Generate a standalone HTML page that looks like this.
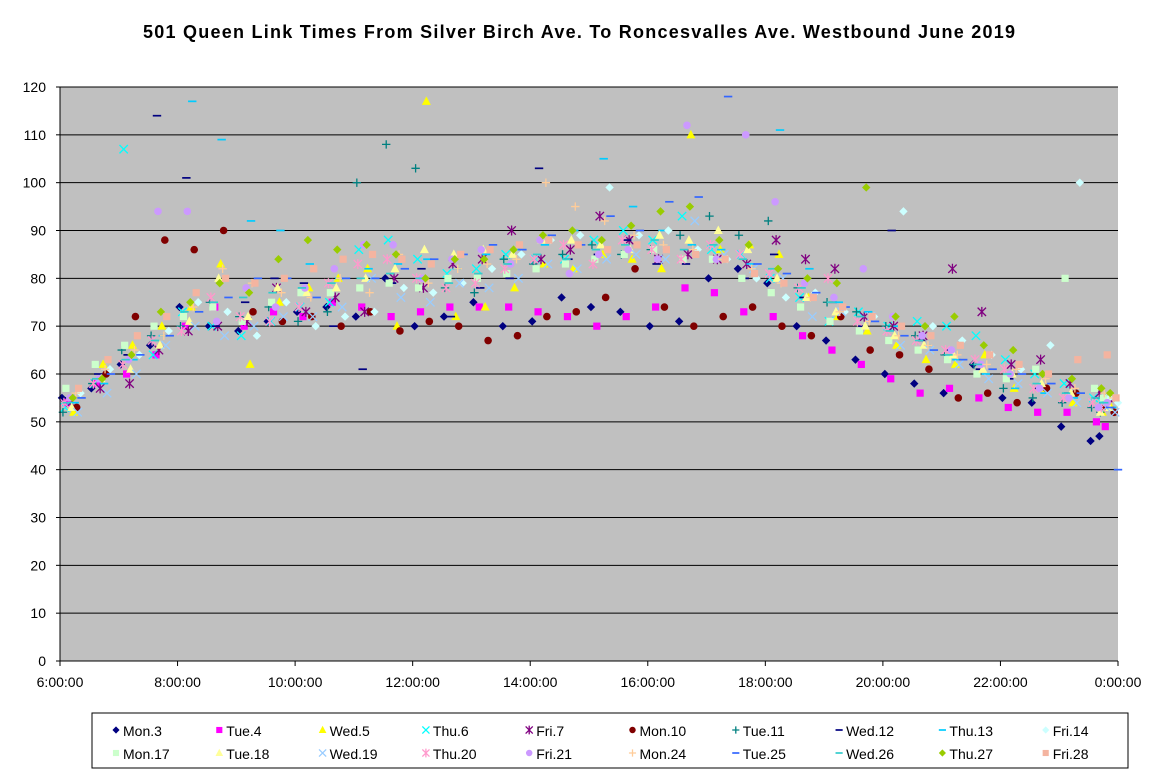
<!DOCTYPE html>
<html><head><meta charset="utf-8"><style>
body{margin:0;background:#fff;}
svg text{font-family:"Liberation Sans",Arial,sans-serif;}
</style></head><body>
<svg id="chart" width="1149" height="778" xmlns="http://www.w3.org/2000/svg">
<text x="579" y="38" text-anchor="middle" font-size="18" font-weight="bold" textLength="872" lengthAdjust="spacing">501 Queen Link Times From Silver Birch Ave. To Roncesvalles Ave. Westbound June 2019</text>
<rect x="60" y="87" width="1058" height="574" fill="#C0C0C0"/>
<g id="grid"></g><g id="marks"></g><g id="axes"></g>
<rect x="92" y="713" width="1036" height="55" fill="#fff" stroke="#000" stroke-width="1"/>
<g id="legend"></g>
</svg>
<script>
const seriesNames=["Mon.3","Tue.4","Wed.5","Thu.6","Fri.7","Mon.10","Tue.11","Wed.12","Thu.13","Fri.14","Mon.17","Tue.18","Wed.19","Thu.20","Fri.21","Mon.24","Tue.25","Wed.26","Thu.27","Fri.28"];
const slotHours=[6,6.5,7,7.5,8,8.5,9,9.5,10,10.5,11,11.5,12,12.5,13,13.5,14,14.5,15,15.5,16,16.5,17,17.5,18,18.5,19,19.5,20,20.5,21,21.5,22,22.5,23,23.5,24];
const minuteOffsets=[2,8,14,5,11,17,3,9,15,21,6,12,18,4,10,16,22,7,13,19];
const yTicks=[0,10,20,30,40,50,60,70,80,90,100,110,120];
const xTickLabels=["6:00:00","8:00:00","10:00:00","12:00:00","14:00:00","16:00:00","18:00:00","20:00:00","22:00:00","0:00:00"];
const xTickHours=[6,8,10,12,14,16,18,20,22,24];
const sMon3=[55,57,62,66,74,70,69,71,73,74,72,80,70,72,75,70,71,76,74,73,70,71,80,82,79,70,67,63,60,58,56,62,55,54,49,46,47];
const sTue4=[54,58,60,64,70,74,70,73,72,75,74,72,73,74,74,74,73,72,70,72,74,78,77,73,72,68,65,62,59,56,57,55,53,52,52,50,49];
const sWed5=[52,62,66,70,74,83,62,75,78,80,82,70,117,72,74,78,83,82,85,84,82,110,86,87,85,76,72,69,66,63,62,64,57,57,54,52,53];
const sThu6=[53,58,107,64,73,70,68,71,74,75,86,88,84,81,82,85,84,84,88,90,88,93,86,85,80,76,71,73,70,71,70,68,63,60,58,55,54];
const sFri7=[54,57,58,65,69,70,71,78,73,76,73,80,78,83,84,90,84,86,93,88,84,85,84,83,88,84,82,72,70,68,82,73,62,63,58,56,55];
const sMon10=[53,60,72,88,86,90,73,71,72,70,73,69,71,70,67,68,72,73,76,82,74,70,72,74,70,68,72,65,64,61,55,56,54,57,56,53,52];
const sTue11=[52,58,65,68,70,75,72,74,71,73,100,108,103,78,77,84,83,85,87,85,86,89,93,89,92,78,75,73,70,68,64,62,57,55,54,53,52];
const sWed12=[55,60,64,114,101,70,75,80,79,70,61,79,82,72,78,80,103,84,85,88,83,83,84,80,85,76,75,70,90,67,65,61,59,57,56,55,54];
const sThu13=[54,58,63,68,117,109,92,90,83,80,82,83,84,82,85,86,87,90,105,95,90,87,86,83,111,82,75,73,70,66,63,60,57,56,55,54,53];
const sFri14=[56,61,64,69,75,73,68,75,70,72,73,78,77,79,82,85,88,89,99,89,90,86,84,80,76,77,73,72,94,70,67,64,61,66,100,55,54];
const sMon17=[57,62,66,70,72,74,71,75,77,77,78,79,78,80,80,81,82,83,84,85,86,84,84,80,77,74,71,69,67,65,63,60,59,61,80,57,55];
const sTue18=[53,59,61,66,71,80,72,78,77,78,80,82,86,85,86,85,88,88,87,86,89,88,90,86,80,76,73,70,68,66,64,61,60,58,56,52,53];
const sWed19=[52,56,60,66,70,68,70,72,72,74,80,76,75,79,78,80,83,82,84,85,84,92,85,82,80,72,73,72,66,65,62,59,58,56,54,53,52];
const sThu20=[54,58,62,67,69,76,72,71,74,79,83,84,80,78,79,82,84,87,83,88,86,84,87,85,81,78,80,71,69,67,65,63,61,57,55,54,53];
const sFri21=[55,59,63,94,94,71,78,74,78,82,87,87,80,84,86,83,88,81,85,86,84,112,84,110,96,79,76,82,72,68,65,62,60,57,55,53,54];
const sMon24=[56,61,65,68,74,82,79,77,76,80,77,85,79,82,83,84,100,95,92,89,87,86,84,82,79,76,73,71,68,66,64,62,61,59,57,56,55];
const sTue25=[55,60,64,68,73,76,80,80,76,80,80,82,84,85,87,86,89,87,93,90,96,97,118,83,81,77,74,71,68,65,63,61,60,58,56,53,40];
const sWed26=[54,59,63,67,73,75,76,77,78,79,80,81,80,79,81,83,85,84,86,87,88,86,87,84,82,78,75,72,69,67,64,62,60,58,56,55,54];
const sThu27=[55,59,64,73,75,79,77,84,88,86,87,85,80,84,84,86,89,90,88,91,94,95,88,87,82,80,79,99,72,70,72,66,65,60,59,57,56];
const sFri28=[57,63,68,72,77,80,79,80,82,84,85,84,83,85,86,87,88,87,86,87,86,85,84,81,79,76,74,72,70,68,66,64,62,60,63,64,55];
const seriesValues=[sMon3,sTue4,sWed5,sThu6,sFri7,sMon10,sTue11,sWed12,sThu13,sFri14,sMon17,sTue18,sWed19,sThu20,sFri21,sMon24,sTue25,sWed26,sThu27,sFri28];
const styles=[["diamond","#000080"],["square","#FF00FF"],["triangle","#FFFF00"],["x","#00FFFF"],["star","#800080"],["circle","#800000"],["plus","#008080"],["dash","#000080"],["dash","#00CCFF"],["diamond","#CCFFFF"],["square","#CCFFCC"],["triangle","#FFFF99"],["x","#99CCFF"],["star","#FF99CC"],["circle","#CC99FF"],["plus","#FFCC99"],["dash","#3366FF"],["dash","#33CCCC"],["diamond","#99CC00"],["square","#F4B4A0"]];
const NS="http://www.w3.org/2000/svg";
const X0=60,X1=1118,Y0=661,Y1=87;
function xScale(h){return X0+(h-6)/18*(X1-X0);}
function yScale(v){return Y0-v/120*(Y0-Y1);}
function mk(tag,attrs,parent){const e=document.createElementNS(NS,tag);for(const k in attrs)e.setAttribute(k,attrs[k]);parent.appendChild(e);return e;}
function marker(shape,color,x,y,parent,sc){
  const g=mk("g",{},parent);const s=4.2*sc;
  if(shape==="diamond")mk("polygon",{points:`${x},${y-s} ${x+s},${y} ${x},${y+s} ${x-s},${y}`,fill:color},g);
  else if(shape==="square")mk("rect",{x:x-3.6*sc,y:y-3.6*sc,width:7.2*sc,height:7.2*sc,fill:color},g);
  else if(shape==="triangle")mk("polygon",{points:`${x},${y-5*sc} ${x+4.5*sc},${y+3.5*sc} ${x-4.5*sc},${y+3.5*sc}`,fill:color},g);
  else if(shape==="circle")mk("circle",{cx:x,cy:y,r:3.8*sc,fill:color},g);
  else if(shape==="x"){mk("path",{d:`M${x-s},${y-s}L${x+s},${y+s}M${x+s},${y-s}L${x-s},${y+s}`,stroke:color,"stroke-width":1.3},g);}
  else if(shape==="star"){mk("path",{d:`M${x-s},${y-s}L${x+s},${y+s}M${x+s},${y-s}L${x-s},${y+s}M${x},${y-s-0.8}L${x},${y+s+0.8}`,stroke:color,"stroke-width":1.3},g);}
  else if(shape==="plus"){mk("path",{d:`M${x-s},${y}L${x+s},${y}M${x},${y-s}L${x},${y+s}`,stroke:color,"stroke-width":1.3},g);}
  else if(shape==="dash"){mk("path",{d:`M${x-s},${y}L${x+s},${y}`,stroke:color,"stroke-width":1.7},g);}
  return g;
}
const grid=document.getElementById("grid"),axes=document.getElementById("axes"),marks=document.getElementById("marks"),legend=document.getElementById("legend");
yTicks.forEach(v=>{
  if(v>0){const l=mk("line",{x1:X0,x2:X1,y1:yScale(v),y2:yScale(v),stroke:"#000","stroke-width":1},grid);
  
  }
  mk("line",{x1:X0-4,x2:X0,y1:yScale(v),y2:yScale(v),stroke:"#000"},axes);
  const t=mk("text",{x:X0-14,y:yScale(v)+5,"text-anchor":"end","font-size":14},axes);
  
  
  t.textContent=v;
});
mk("line",{x1:X0,x2:X0,y1:Y1,y2:Y0,stroke:"#000"},axes);
mk("line",{x1:X0,x2:X1,y1:Y0,y2:Y0,stroke:"#000"},axes);
xTickHours.forEach((h,i)=>{
  mk("line",{x1:xScale(h),x2:xScale(h),y1:Y0,y2:Y0+5,stroke:"#000"},axes);
  const t=mk("text",{x:xScale(h),y:Y0+26,"text-anchor":"middle","font-size":14},axes);
  
  
  t.textContent=xTickLabels[i];
});
seriesValues.forEach((vals,si)=>{
  const [shape,color]=styles[si];
  vals.forEach((v,j)=>{
    const h=Math.min(24,slotHours[j]+minuteOffsets[si]/60-(j===slotHours.length-1?0.35:0));
    const g=marker(shape,color,xScale(h),yScale(v),marks,1);
    
    
  });
});
seriesNames.forEach((n,i)=>{
  const row=Math.floor(i/10),col=i%10;
  const x=116+col*103.3,y=731+row*23;
  const g=mk("g",{},legend);
  
  
  marker(styles[i][0],styles[i][1],x,y-1,g,0.85);
  const t=mk("text",{x:x+7,y:y+5,"font-size":14},g);
  t.textContent=n;
});
</script>
</body></html>
